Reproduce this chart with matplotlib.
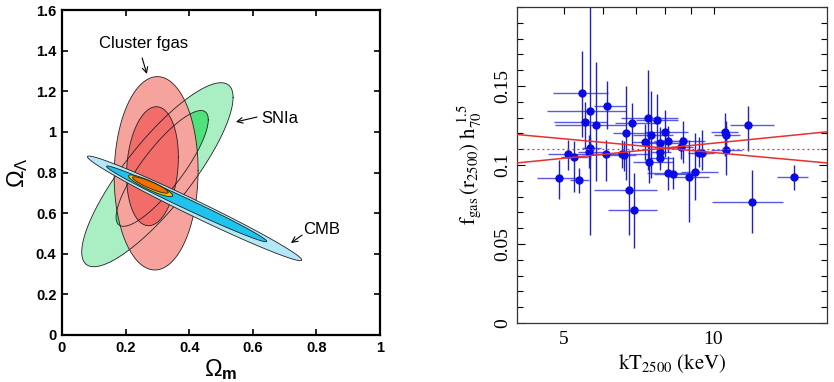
import numpy as np
import matplotlib
matplotlib.use('Agg')
import matplotlib.pyplot as plt
from matplotlib.ticker import FixedLocator, MultipleLocator

plt.rcParams['mathtext.fontset'] = 'custom'
plt.rcParams['mathtext.rm'] = 'Liberation Sans'
plt.rcParams['mathtext.bf'] = 'Liberation Sans:bold'
plt.rcParams['mathtext.it'] = 'Liberation Sans:italic'

# ---------------- Left panel data: confidence contours ----------------
# each contour: centre (cx, cy), half extents (hx, hy), correlation rho
ct_name = ['SNIa_out', 'SNIa_in', 'Clus_out', 'Clus_in', 'CMB_out', 'CMB_in', 'Comb_out', 'Comb_in']
ct_cx = [0.300, 0.315, 0.296, 0.2845, 0.417, 0.392, 0.2785, 0.278]
ct_cy = [0.789, 0.820, 0.796, 0.831, 0.6235, 0.6455, 0.7345, 0.7385]
ct_hx = [0.238, 0.145, 0.132, 0.0815, 0.337, 0.252, 0.0695, 0.056]
ct_hy = [0.453, 0.285, 0.476, 0.293, 0.2575, 0.1865, 0.0535, 0.0405]
ct_rho = [0.84, 0.84, 0.03, 0.15, -0.986, -0.989, -0.90, -0.90]
ct_color = ['#a9efc3', '#4fe27a', '#f6a39d', '#f26c6a', '#b4e8f8', '#1ec3ee', '#f5c400', '#f07000']

labels_left = ['Cluster fgas', 'SNIa', 'CMB']
label_xy = [(0.255, 1.433), (0.686, 1.068), (0.818, 0.517)]
arrow_from = [(0.252, 1.364), (0.613, 1.073), (0.755, 0.492)]
arrow_to = [(0.267, 1.285), (0.547, 1.049), (0.720, 0.453)]

# ---------------- Right panel data: f_gas vs kT ----------------
kT    = [4.89, 5.10, 5.25, 5.38, 5.44, 5.53, 5.64, 5.62, 5.66, 5.82, 6.09, 6.11, 6.55, 6.61,
         6.66, 6.75, 6.86, 6.91, 7.27, 7.39, 7.41, 7.50, 7.70, 7.82, 7.82, 7.82, 8.00, 8.12,
         8.12, 8.29, 8.60, 8.68, 8.94, 9.16, 9.33, 9.48, 10.55, 10.58, 10.60, 11.72, 11.94, 14.52]
kT_lo = [4.43, 4.65, 4.95, 5.16, 4.75, 4.78, 4.63, 5.35, 5.45, 4.81, 5.60, 5.75, 5.63, 6.20,
         6.29, 5.75, 6.34, 6.13, 6.85, 6.52, 6.90, 6.90, 7.00, 7.30, 7.50, 7.40, 7.30, 7.35,
         7.60, 7.60, 8.20, 7.80, 8.20, 8.60, 8.90, 9.00, 9.90, 10.00, 9.90, 10.80, 9.92, 13.40]
kT_hi = [5.38, 5.60, 5.60, 5.61, 6.13, 6.10, 6.68, 6.05, 5.95, 6.68, 6.60, 6.66, 7.45, 7.00,
         7.45, 7.70, 7.82, 7.70, 7.75, 8.50, 8.30, 8.30, 8.50, 8.70, 8.20, 8.30, 8.90, 8.95,
         8.90, 9.00, 9.10, 9.60, 9.80, 10.20, 9.80, 10.00, 11.20, 11.30, 11.40, 13.20, 13.80, 15.50]
fgas    = [0.0915, 0.1068, 0.1051, 0.0903, 0.1453, 0.1269, 0.1341, 0.1083, 0.1108, 0.1252, 0.1068,
           0.1375, 0.1068, 0.1064, 0.1201, 0.0843, 0.1265, 0.0716, 0.1144, 0.1299, 0.1019, 0.1193,
           0.1282, 0.1140, 0.1080, 0.1047, 0.1210, 0.0947, 0.1155, 0.0945, 0.1114, 0.1155, 0.0924,
           0.0953, 0.1076, 0.1076, 0.1212, 0.1193, 0.1097, 0.1256, 0.0767, 0.0922]
fgas_lo = [0.0784, 0.0970, 0.0830, 0.0820, 0.1180, 0.1100, 0.0560, 0.0980, 0.1040, 0.0900, 0.0896,
           0.1225, 0.0980, 0.0960, 0.0907, 0.0557, 0.1097, 0.0472, 0.1030, 0.0970, 0.0886, 0.0920,
           0.1034, 0.1040, 0.1000, 0.0970, 0.1050, 0.0840, 0.1080, 0.0850, 0.1040, 0.1013, 0.0640,
           0.0780, 0.0990, 0.0970, 0.1055, 0.1080, 0.0939, 0.1087, 0.0568, 0.0843]
fgas_hi = [0.1034, 0.1160, 0.1150, 0.0980, 0.1720, 0.1400, 0.2120, 0.1190, 0.1180, 0.1655, 0.1160,
           0.1530, 0.1160, 0.1150, 0.1500, 0.1097, 0.1390, 0.0949, 0.1260, 0.1600, 0.1200, 0.1470,
           0.1447, 0.1240, 0.1160, 0.1120, 0.1350, 0.1060, 0.1250, 0.1050, 0.1180, 0.1278, 0.1160,
           0.1200, 0.1180, 0.1220, 0.1330, 0.1280, 0.1246, 0.1373, 0.0966, 0.1002]

fit_x = [4.03, 16.9]
fit_lo_to_hi = [0.1013, 0.1210]
fit_hi_to_lo = [0.1193, 0.1013]
fit_mean = [0.1102, 0.1102]

# ---------------- Figure ----------------
fig = plt.figure(figsize=(8.34, 3.82), dpi=100)

axL = fig.add_axes([62/834, 47/382, 318/834, 325/382])


def ellipse(i):
    t = np.linspace(0, 2*np.pi, 600)
    r = ct_rho[i]
    x = ct_cx[i] + ct_hx[i]*np.cos(t)
    y = ct_cy[i] + ct_hy[i]*(r*np.cos(t) + np.sqrt(1 - r*r)*np.sin(t))
    return x, y

ec = '#222222'
elw = 0.6
# SNIa fills, cluster fills, then outlines
for i in [0, 1, 2, 3]:
    x, y = ellipse(i)
    axL.fill(x, y, color=ct_color[i], lw=0, zorder=1 + i)
for i in [0, 1, 2, 3]:
    x, y = ellipse(i)
    axL.plot(x, y, color=ec, lw=elw, zorder=6)
for i in [4, 5, 6, 7]:
    x, y = ellipse(i)
    axL.fill(x, y, facecolor=ct_color[i], edgecolor=ec, lw=elw, zorder=7 + i)

for lab, (tx, ty), a0, a1 in zip(labels_left, label_xy, arrow_from, arrow_to):
    axL.text(tx, ty, lab, ha='center', va='center', fontsize=12,
             family='Liberation Sans', zorder=20)
    axL.annotate('', xy=a1, xytext=a0,
                 arrowprops=dict(arrowstyle='->', color='black', lw=0.8,
                                 shrinkA=0, shrinkB=0), zorder=20)

axL.set_xlim(0, 1)
axL.set_ylim(0, 1.6)
axL.set_xticks([0, 0.2, 0.4, 0.6, 0.8, 1])
axL.set_xticklabels(['0', '0.2', '0.4', '0.6', '0.8', '1'])
axL.set_yticks([0, 0.2, 0.4, 0.6, 0.8, 1, 1.2, 1.4, 1.6])
axL.set_yticklabels(['0', '0.2', '0.4', '0.6', '0.8', '1', '1.2', '1.4', '1.6'])
axL.tick_params(direction='in', top=True, right=True, length=4, width=1.2,
                labelsize=10.5, pad=4)
for lab in axL.get_xticklabels() + axL.get_yticklabels():
    lab.set_fontweight('bold')
    lab.set_family('Liberation Sans')
for s in axL.spines.values():
    s.set_linewidth(1.6)
axL.set_xlabel(r'$\Omega_{\mathbf{m}}$', fontsize=17, labelpad=2)
axL.set_ylabel(r'$\Omega_{\Lambda}$', fontsize=17, labelpad=4)

# ---------------- Right panel ----------------
axR = fig.add_axes([517/834, 59/382, 310/834, 316/382])
kT_a = np.array(kT); f_a = np.array(fgas)
xerr = [kT_a - np.array(kT_lo), np.array(kT_hi) - kT_a]
yerr = [f_a - np.array(fgas_lo), np.array(fgas_hi) - f_a]
axR.errorbar(kT_a, f_a, xerr=xerr, fmt='none', ecolor='#5a5ae2', elinewidth=1.0,
             capsize=0, zorder=2)
axR.errorbar(kT_a, f_a, yerr=yerr, fmt='none', ecolor='#2222c0', elinewidth=1.0,
             capsize=0, zorder=3)
axR.plot(kT_a, f_a, 'o', color='#0a0ae8', ms=5, mec='#0a0ae8', zorder=4)

axR.plot(fit_x, fit_lo_to_hi, color='#e8302c', lw=1.1, zorder=5)
axR.plot(fit_x, fit_hi_to_lo, color='#e8302c', lw=1.1, zorder=5)
axR.plot(fit_x, fit_mean, color='#e8302c', lw=0.9, ls=(0, (1.5, 2.5)), zorder=5)

axR.set_xscale('log')
axR.set_xlim(4.03, 16.9)
axR.set_ylim(0, 0.2)
axR.xaxis.set_major_locator(FixedLocator([5, 10]))
axR.xaxis.set_minor_locator(FixedLocator([]))
axR.set_xticklabels(['5', '10'])
axR.tick_params(axis='x', which='both', bottom=True, top=False, length=0,
                labelsize=14, pad=6)
axR.yaxis.set_major_locator(FixedLocator([0, 0.05, 0.1, 0.15]))
axR.set_yticklabels(['0', '0.05', '0.1', '0.15'])
axR.yaxis.set_minor_locator(MultipleLocator(0.01))
axR.tick_params(axis='y', which='major', direction='in', left=True, right=True,
                length=6, width=0.8, labelsize=14, pad=4)
axR.tick_params(axis='y', which='minor', direction='in', left=True, right=True,
                length=4, width=0.8)
for lab in axR.get_yticklabels():
    lab.set_rotation(90)
    lab.set_va('center')
for lab in axR.get_xticklabels() + axR.get_yticklabels():
    lab.set_family('Liberation Serif')
# top ticks at 5..10
axT = axR.secondary_xaxis('top')
axT.set_xticks([5, 6, 7, 8, 9, 10])
axT.xaxis.set_minor_locator(FixedLocator([]))
axT.tick_params(direction='in', length=5, width=0.8, labeltop=False)
axT.spines['top'].set_visible(False)
for s in axR.spines.values():
    s.set_linewidth(0.9)
    s.set_color('#333333')

axR.set_xlabel(r'$\mathrm{kT_{2500}\ (keV)}$', fontsize=15, labelpad=3,
               math_fontfamily='stix')
axR.set_ylabel(r'$\mathrm{f_{gas}\,(r_{2500})\ h_{70}^{\ 1.5}}$', fontsize=15, labelpad=8,
               math_fontfamily='stix')

fig.savefig('out.png', dpi=100)
